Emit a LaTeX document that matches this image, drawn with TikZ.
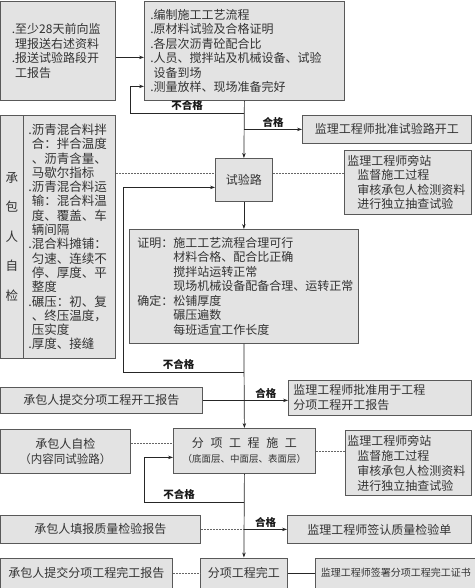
\documentclass[tikz,border=0pt]{standalone}
\usepackage{fontspec}
\newfontfamily\cjk{Noto Sans CJK SC}
\usetikzlibrary{arrows.meta}

\tikzset{
    box/.style={draw=black!65, fill=black!11, text=black!80, line width=0.8pt, inner sep=0pt, anchor=north west, font=\cjk\fontsize{12pt}{14.5pt}\selectfont},
    flow/.style={draw=black!85, line width=0.7pt},
    dotline/.style={draw=black!60, line width=0.6pt, dash pattern=on 2pt off 1pt},
    lbl/.style={font=\cjk\bfseries\fontsize{10.5pt}{12pt}\selectfont, text=black!90, inner sep=2pt},
}

\begin{document}
\begin{tikzpicture}[x=1pt,y=-1pt,>={Stealth[length=5pt,width=3.5pt]}]
        \useasboundingbox (0,0) rectangle (474,588);
        \def\dotsp{\phantom{.}}
        \def\sp{\hspace{.55em}}

        % Preparation
        \node[box, minimum width=115pt, minimum height=99pt, text width=92pt, align=left] (prep) at (0,1) {.至少28天前向监\\\dotsp 理报送右述资料\\.报送试验路段开\\\dotsp 工报告};
        \node[box, minimum width=200pt, minimum height=99pt, text width=188pt, align=left] (items) at (144,1) {.编制施工工艺流程\\.原材料试验及合格证明\\.各层次沥青砼配合比\\.人员、搅拌站及机械设备、试验\\\dotsp 设备到场\\.测量放样、现场准备完好};
        \node[box, minimum width=169pt, minimum height=28pt] (approve1) at (302,115) {监理工程师批准试验路开工};

        % Trial section
        \node[box, minimum width=57pt, minimum height=43pt] (trial) at (215,158) {试验路};
        \node[box, minimum width=127pt, minimum height=64pt, text width=121pt, align=left] (sup1) at (344,150) {监理工程师旁站\\\hspace{10pt}监督施工过程\\\hspace{10pt}审核承包人检测资料\\\hspace{10pt}进行独立抽查试验};
        \node[box, minimum width=23pt, minimum height=243pt, font=\cjk\fontsize{12.5pt}{29.5pt}\selectfont, align=center] (selfcol) at (0,115) {承\\包\\人\\自\\检};
        \node[box, minimum width=92pt, minimum height=243pt, text width=82pt, align=left, font=\cjk\fontsize{12.5pt}{14.3pt}\selectfont] (selfitems) at (23,115) {.沥青混合料拌\\\dotsp 合：拌合温度\\\dotsp 、沥青含量、\\\dotsp 马歇尔指标\\.沥青混合料运\\\dotsp 输：混合料温\\\dotsp 度、覆盖、车\\\dotsp 辆间隔\\.混合料摊铺：\\\dotsp 匀速、连续不\\\dotsp 停、厚度、平\\\dotsp 整度\\.碾压：初、复\\\dotsp 、终压温度，\\\dotsp 压实度\\.厚度、接缝};
        \node[box, minimum width=229pt, minimum height=114pt, text width=213pt, align=left] (proof) at (129,229) {证明：施工工艺流程合理可行\\\phantom{证明：}材料合格、配合比正确\\\phantom{证明：}搅拌站运转正常\\\phantom{证明：}现场机械设备配备合理、运转正常\\确定：松铺厚度\\\phantom{确定：}碾压遍数\\\phantom{确定：}每班适宜工作长度};

        % Sub-project
        \node[box, minimum width=202pt, minimum height=26pt] (startrep) at (0,387) {承包人提交分项工程开工报告};
        \node[box, minimum width=183pt, minimum height=35pt, text width=173pt, align=left, font=\cjk\fontsize{12pt}{15pt}\selectfont] (approve2) at (288,380) {监理工程师批准用于工程\\分项工程开工报告};
        \node[box, minimum width=130pt, minimum height=44pt, align=center, font=\cjk\fontsize{12pt}{15pt}\selectfont] (selfchk2) at (0,429) {承包人自检\\{\fontsize{11.5pt}{15pt}\selectfont （内容同试验路）}};
        \node[box, minimum width=142pt, minimum height=45pt, align=center, font=\cjk\fontsize{12pt}{15pt}\selectfont] (construct) at (173,428) {分\sp 项\sp 工\sp 程\sp 施\sp 工\\{\fontsize{9.5pt}{15pt}\selectfont （底面层、中面层、表面层）}};
        \node[box, minimum width=126pt, minimum height=65pt, text width=122pt, align=left, font=\cjk\fontsize{12pt}{15pt}\selectfont] (sup2) at (345,430) {监理工程师旁站\\\hspace{10pt}监督施工过程\\\hspace{10pt}审核承包人检测资料\\\hspace{10pt}进行独立抽查试验};
        \node[box, minimum width=200pt, minimum height=28pt] (qrep) at (0,515) {承包人填报质量检验报告};
        \node[box, minimum width=184pt, minimum height=28pt] (qsign) at (287,515) {监理工程师签认质量检验单};
        \node[box, minimum width=172pt, minimum height=30pt] (comprep) at (0,557.5) {承包人提交分项工程完工报告};
        \node[box, minimum width=87pt, minimum height=30pt] (done) at (200,557.5) {分项工程完工};
        \node[box, minimum width=161pt, minimum height=30pt, font=\cjk\fontsize{10pt}{12pt}\selectfont] (cert) at (315,557.5) {监理工程师签署分项工程完工证书};

        % Loop points
        \coordinate (prepout) at ([yshift=-6.5pt]prep.east);
        \coordinate (fail1) at (130,113);
        \coordinate (fail2) at (123,372);
        \coordinate (fail3) at (144,502);
        \coordinate (dashin) at ([yshift=6.5pt]trial.west);
        \coordinate (dashout) at ([yshift=6.5pt]trial.east);
        \coordinate (dashin2) at ([yshift=7.5pt]construct.west);

        % Main flow
        \draw[flow,->] (prepout) -- (prepout -| items.west);
        \draw[flow,->] (items.south) -- (trial.north);
        \draw[flow,->] (items.south |- fail1) -- node[lbl,above]{不合格} (fail1) |- ([yshift=-35.5pt]items.west);
        \draw[flow,->] (items.south |- approve1.west) -- node[lbl,above]{合格} (approve1.west);
        \draw[flow,->] (trial.south) -- (proof.north);
        \draw[flow,->] (proof.south) -- (construct.north);
        \draw[flow,->] (proof.south |- fail2) -- node[lbl,above,pos=.54]{不合格} (fail2) |- ([yshift=-7.5pt]trial.west);
        \draw[flow,->] (startrep.east) -- node[lbl,above,pos=.74]{合格} (startrep.east -| approve2.west);
        \draw[flow,->] (construct.south |- fail3) -- node[lbl,above,pos=.65]{不合格} (fail3) |- ([yshift=-6.5pt]construct.west);
        \draw[flow,->] (construct.south |- qsign.west) -- node[lbl,above]{合格} (qsign.west);
        \draw[flow,->] (construct.south) -- (done.north);
        \draw[flow] (done.east) -- (cert.west);

        % Side checks
        \draw[dotline] (selfitems.east |- dashin) -- (dashin);
        \draw[dotline] (dashout) -- (dashout -| sup1.west);
        \draw[dotline] (selfchk2.east |- dashin2) -- (dashin2);
        \draw[dotline] (construct.east) -- (construct.east -| sup2.west);
        \draw[dotline] (qrep.east) -- (qrep.east -| construct.south);
        \draw[dotline] (comprep.east) -- (done.west);
    \end{tikzpicture}
\end{document}
